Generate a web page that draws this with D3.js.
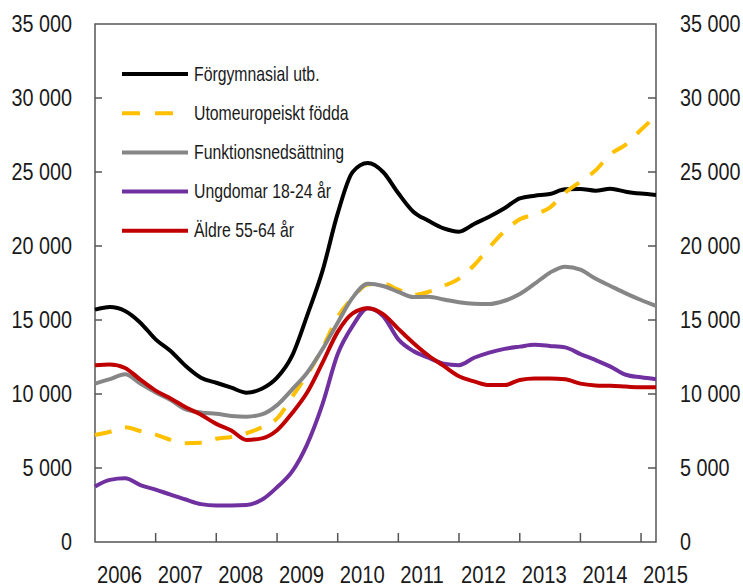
<!DOCTYPE html>
<html lang="sv">
<head>
<meta charset="UTF-8">
<title>Långtidsarbetslösa per grupp</title>
<script src="https://cdn.jsdelivr.net/npm/d3@7"></script>
<style>
    body { margin: 0; background: #fff; }
    svg text {
        font-family: "Liberation Sans Narrow", "Arial Narrow", "Liberation Sans", sans-serif;
        fill: #1a1a1a;
    }
</style>
</head>
<body>
<svg width="743" height="587"></svg>
<script>
    // quarterly readings, Jan 2006 - Apr 2015
    const months = [
        "2006-01", "2006-04", "2006-07", "2006-10",
        "2007-01", "2007-04", "2007-07", "2007-10",
        "2008-01", "2008-04", "2008-07", "2008-10",
        "2009-01", "2009-04", "2009-07", "2009-10",
        "2010-01", "2010-04", "2010-07", "2010-10",
        "2011-01", "2011-04", "2011-07", "2011-10",
        "2012-01", "2012-04", "2012-07", "2012-10",
        "2013-01", "2013-04", "2013-07", "2013-10",
        "2014-01", "2014-04", "2014-07", "2014-10",
        "2015-01", "2015-04"
    ];

    const forgymnasial = [15700, 15880, 15610, 14820, 13690, 12900, 11890, 11100, 10760, 10430,
        10090, 10350, 11100, 12570, 15300, 18300, 22200, 25000, 25600, 25000,
        23560, 22320, 21710, 21190, 20970, 21490, 21980, 22550, 23220, 23400,
        23510, 23830, 23850, 23740, 23870, 23670, 23540, 23450];

    const utomeuropeiskt = [7230, 7450, 7750, 7500, 7250, 6900, 6680, 6700, 6980, 7100,
        7350, 7750, 8350, 9800, 11300, 13100, 15200, 16500, 17400, 17450,
        17050, 16700, 16900, 17300, 17800, 18700, 19900, 21000, 21800, 22150,
        22600, 23600, 24350, 25100, 26200, 26850, 27850, 28800];

    const funktionsned = [10700, 11000, 11330, 10700, 10100, 9600, 8960, 8750, 8660, 8520,
        8470, 8620, 9250, 10300, 11440, 13020, 14820, 16510, 17450, 17300,
        16900, 16550, 16570, 16390, 16200, 16100, 16080, 16300, 16750, 17450,
        18200, 18600, 18400, 17800, 17300, 16800, 16350, 15950];

    const ungdomar = [3750, 4200, 4300, 3850, 3540, 3200, 2870, 2560, 2470, 2470,
        2500, 2850, 3700, 4750, 6600, 9300, 12700, 14600, 15800, 15270,
        13690, 12900, 12450, 12050, 11950, 12450, 12800, 13050, 13200, 13320,
        13250, 13150, 12700, 12300, 11850, 11300, 11130, 11000];

    const aldre = [11950, 12000, 11760, 10970, 10230, 9700, 9100, 8600, 7980, 7530,
        6900, 7000, 7550, 8700, 10100, 12100, 14200, 15450, 15800, 15400,
        14400, 13450, 12600, 11900, 11200, 10850, 10600, 10600, 10950, 11050,
        11050, 11000, 10700, 10580, 10550, 10500, 10450, 10450];

    const yearLabels = ["2006", "2007", "2008", "2009", "2010", "2011", "2012", "2013", "2014", "2015"];
    const yTicks = [0, 5000, 10000, 15000, 20000, 25000, 30000, 35000];

    const series = [
        { name: "Förgymnasial utb.", values: forgymnasial, color: "#000000", dash: null },
        { name: "Utomeuropeiskt födda", values: utomeuropeiskt, color: "#FFC000", dash: "17,14" },
        { name: "Funktionsnedsättning", values: funktionsned, color: "#868686", dash: null },
        { name: "Ungdomar 18-24 år", values: ungdomar, color: "#7030A0", dash: null },
        { name: "Äldre 55-64 år", values: aldre, color: "#C00000", dash: null }
    ];

    const svg = d3.select("svg");
    const plotL = 95, plotR = 656, plotT = 24, plotB = 542;
    const parse = d3.timeParse("%Y-%m");
    const dates = months.map(parse);

    const x = d3.scaleTime()
        .domain([dates[0], dates[dates.length - 1]])
        .range([plotL, plotR]);
    const y = d3.scaleLinear().domain([0, 35000]).range([plotB, plotT]);

    const fmt = v => d3.format(",")(v).replace(/,/g, " ");
    const axisColor = "#555";
    // the original uses a condensed face; squeeze the installed sans to match
    const squeeze = (px, py, k) => `translate(${px},${py}) scale(${k},1)`;

    // frame
    svg.append("rect")
        .attr("x", plotL).attr("y", plotT)
        .attr("width", plotR - plotL).attr("height", plotB - plotT)
        .attr("fill", "none").attr("stroke", axisColor).attr("stroke-width", 1.5);

    // y ticks (inward) + labels both sides
    const inner = yTicks.filter(t => t > 0 && t < 35000);
    svg.append("g").selectAll("line").data(inner).join("line")
        .attr("x1", plotL).attr("x2", plotL + 7)
        .attr("y1", d => y(d)).attr("y2", d => y(d))
        .attr("stroke", axisColor).attr("stroke-width", 1.5);
    svg.append("g").selectAll("line").data(inner).join("line")
        .attr("x1", plotR).attr("x2", plotR - 8)
        .attr("y1", d => y(d)).attr("y2", d => y(d))
        .attr("stroke", axisColor).attr("stroke-width", 1.5);

    svg.append("g").selectAll("text").data(yTicks).join("text")
        .attr("transform", d => squeeze(plotL - 23, y(d), 0.86))
        .attr("text-anchor", "end").attr("dominant-baseline", "central")
        .attr("font-size", 23)
        .text(fmt);
    svg.append("g").selectAll("text").data(yTicks).join("text")
        .attr("transform", d => squeeze(plotR + 24, y(d), 0.86))
        .attr("text-anchor", "start").attr("dominant-baseline", "central")
        .attr("font-size", 23)
        .text(fmt);

    // x ticks at year starts, labels just after each tick
    const years = yearLabels.map(s => parse(s + "-01"));
    svg.append("g").selectAll("line").data(years.slice(1)).join("line")
        .attr("x1", d => x(d)).attr("x2", d => x(d))
        .attr("y1", plotB).attr("y2", plotB - 9)
        .attr("stroke", axisColor).attr("stroke-width", 1.5);
    svg.append("g").selectAll("text").data(yearLabels).join("text")
        .attr("transform", (d, i) => squeeze(x(years[i]) + 2, 575, 0.88))
        .attr("text-anchor", "start").attr("dominant-baseline", "central")
        .attr("font-size", 23)
        .text(d => d);

    // lines
    const line = d3.line()
        .x((d, i) => x(dates[i]))
        .y(d => y(d))
        .curve(d3.curveMonotoneX);

    svg.append("g").selectAll("path").data(series).join("path")
        .attr("d", d => line(d.values))
        .attr("fill", "none")
        .attr("stroke", d => d.color)
        .attr("stroke-width", 4)
        .attr("stroke-linejoin", "round")
        .attr("stroke-dasharray", d => d.dash);

    // legend
    const legend = svg.append("g").selectAll("g").data(series).join("g")
        .attr("transform", (d, i) => `translate(122,${74 + i * 39.2})`);
    legend.append("line")
        .attr("x1", 0).attr("x2", 66)
        .attr("stroke", d => d.color)
        .attr("stroke-width", 4)
        .attr("stroke-dasharray", d => d.dash ? "18,15" : null);
    legend.append("text")
        .attr("transform", squeeze(72, 0, 0.79))
        .attr("dominant-baseline", "central")
        .attr("font-size", 20)
        .text(d => d.name);
</script>
</body>
</html>
